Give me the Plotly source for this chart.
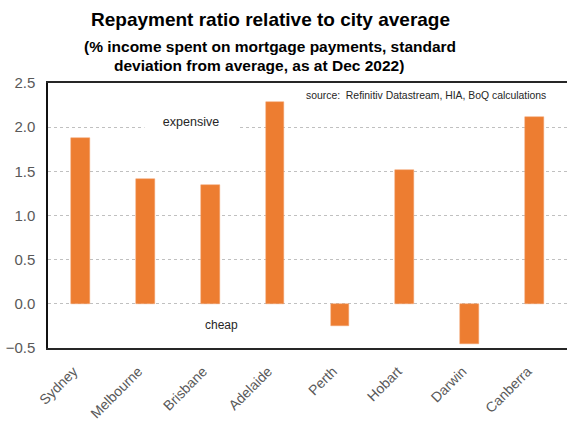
import plotly.graph_objects as go

cities = ["Sydney", "Melbourne", "Brisbane", "Adelaide", "Perth", "Hobart", "Darwin", "Canberra"]
values = [1.88, 1.41, 1.35, 2.28, -0.25, 1.51, -0.45, 2.11]
y_ticks = [-0.5, 0.0, 0.5, 1.0, 1.5, 2.0, 2.5]

FONT = "Arial, Liberation Sans, sans-serif"
GREY = "#595959"

fig = go.Figure()
fig.add_trace(go.Bar(
    x=cities, y=values,
    marker=dict(color="#ED7D31", line=dict(color="#F4A36E", width=0.5)),
    width=0.29,
))

fig.update_layout(
    width=567, height=427,
    margin=dict(l=48, r=0, t=83, b=79),
    paper_bgcolor="white", plot_bgcolor="white",
    showlegend=False,
    font=dict(family=FONT, color=GREY, size=13),
    bargap=0,
)
fig.update_xaxes(
    range=[-0.5, 7.5],
    showline=True, mirror=True, linecolor="#262626", linewidth=1.5,
    showgrid=False, ticks="", tickangle=-45, ticklabelshift=-7, ticklabelstandoff=8,
    tickfont=dict(family=FONT, size=14, color=GREY),
)
fig.update_yaxes(
    range=[-0.5, 2.5], tickvals=y_ticks, tickformat=".1f",
    showline=True, linecolor="#111111", linewidth=1.5,
    showgrid=True, gridcolor="#c0c0c0", griddash="dot", gridwidth=1,
    zeroline=False, ticks="", ticklabelstandoff=8,
    tickfont=dict(family=FONT, size=15, color=GREY),
)

def ann(text, x, y, size, bold=False, color="#000000", xref="paper", yref="paper", **kw):
    t = f"<b>{text}</b>" if bold else text
    kw.setdefault("xanchor", "center")
    kw.setdefault("yanchor", "middle")
    fig.add_annotation(text=t, x=x, y=y, xref=xref, yref=yref, showarrow=False,
                       font=dict(family=FONT, size=size, color=color), **kw)

# titles (pixel positions converted to paper coords)
def px(xp):
    return (xp - 48) / 519.0
def py(yp):
    return (348 - yp) / 265.0

ann("Repayment ratio relative to city average", px(270), py(19), 19, bold=True)
ann("(% income spent on mortgage payments, standard", px(270), py(46), 15.5, bold=True)
ann("deviation from average, as at Dec 2022)", px(259), py(65), 15.5, bold=True)

ann("source:  Refinitiv Datastream, HIA, BoQ calculations", px(548), py(95), 10.4,
    color="#262626", xanchor="right")

ann("expensive", px(191), 2.06, 12.5, color="#262626", xref="paper", yref="y",
    bgcolor="white", width=90)
ann("cheap", px(221), -0.24, 12, color="#262626", xref="paper", yref="y")

fig.write_html("out.html")
